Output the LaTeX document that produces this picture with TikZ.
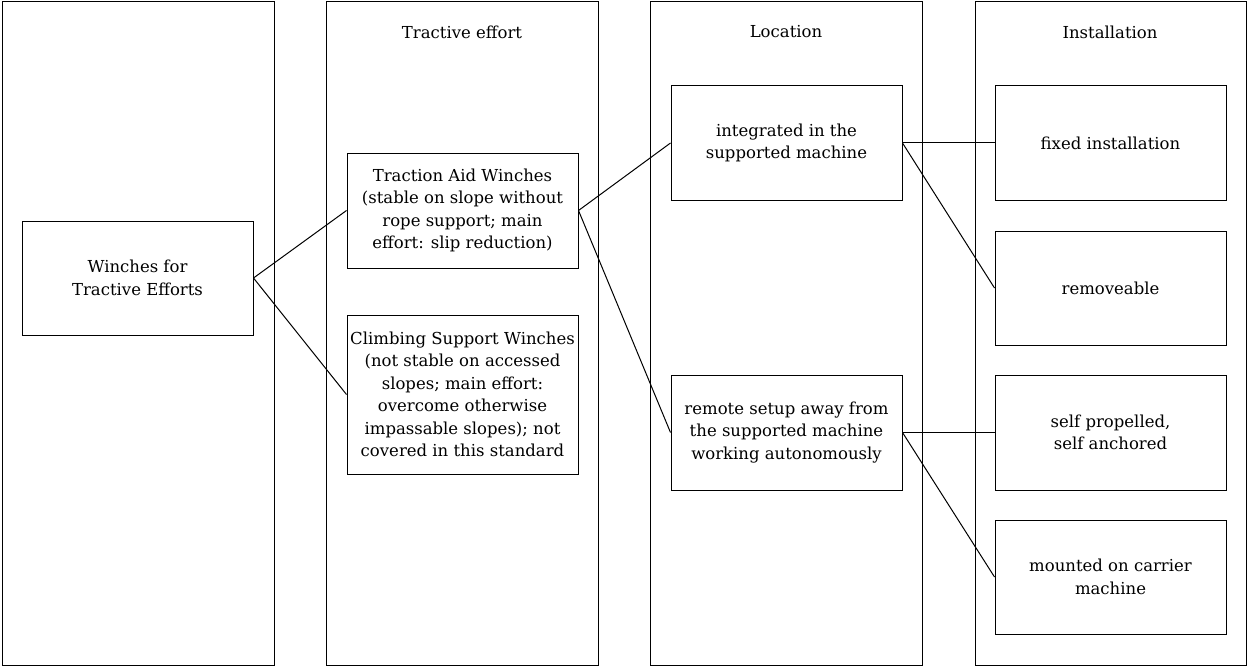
\documentclass[tikz,border=0pt]{standalone}
\usepackage{fontspec}
\setmainfont{DejaVu Serif}
\begin{document}
\begin{tikzpicture}[x=1pt,y=-1pt,
  col/.style={draw,line width=1pt},
  box/.style={draw,line width=1pt,minimum width=231pt,minimum height=114pt,align=center,inner sep=0pt,font=\fontsize{16.5}{22.5}\selectfont},
  ttl/.style={font=\fontsize{16.5}{22.5}\selectfont},
  conn/.style={line width=1pt}]
\useasboundingbox (0,0) rectangle (1247,666);
\fill[white] (0,0) rectangle (1247,666);
% columns
\draw[col] (2,2) rectangle (274,665);
\draw[col] (326,2) rectangle (598,665);
\draw[col] (650,2) rectangle (922,665);
\draw[col] (975,2) rectangle (1246,665);
% titles
\node[ttl] (t2) at (462,32) {Tractive effort};
\node[ttl] (t3) at (786,32) {Location};
\node[ttl] (t4) at (1110,32) {Installation};
% boxes
\node[box] (w) at (137.5,278) {Winches for\\Tractive Efforts};
\node[box,minimum height=115pt] (ta) at (462.5,210.5) {Traction Aid Winches\\(stable on slope without\\rope support; main\\effort: slip reduction)};
\node[box,minimum height=159pt] (cs) at (462.5,394.5) {Climbing Support Winches\\(not stable on accessed\\slopes; main effort:\\overcome otherwise\\impassable slopes); not\\covered in this standard};
\node[box] (ig) at (786.5,143) {integrated in the\\supported machine};
\node[box,minimum height=115pt] (rm) at (786.5,432.5) {remote setup away from\\the supported machine\\working autonomously};
\node[box] (fx) at (1110.5,143) {fixed installation};
\node[box] (rv) at (1110.5,288) {removeable};
\node[box,minimum height=115pt] (sp) at (1110.5,432.5) {self propelled,\\self anchored};
\node[box] (mc) at (1110.5,577) {mounted on carrier\\machine};
% connectors
\draw[conn] (w.east) -- (ta.west);
\draw[conn] (w.east) -- (cs.west);
\draw[conn] (ta.east) -- (ig.west);
\draw[conn] (ta.east) -- (rm.west);
\draw[conn] (ig.east) -- (fx.west);
\draw[conn] (ig.east) -- (rv.west);
\draw[conn] (rm.east) -- (sp.west);
\draw[conn] (rm.east) -- (mc.west);
\end{tikzpicture}
\end{document}
